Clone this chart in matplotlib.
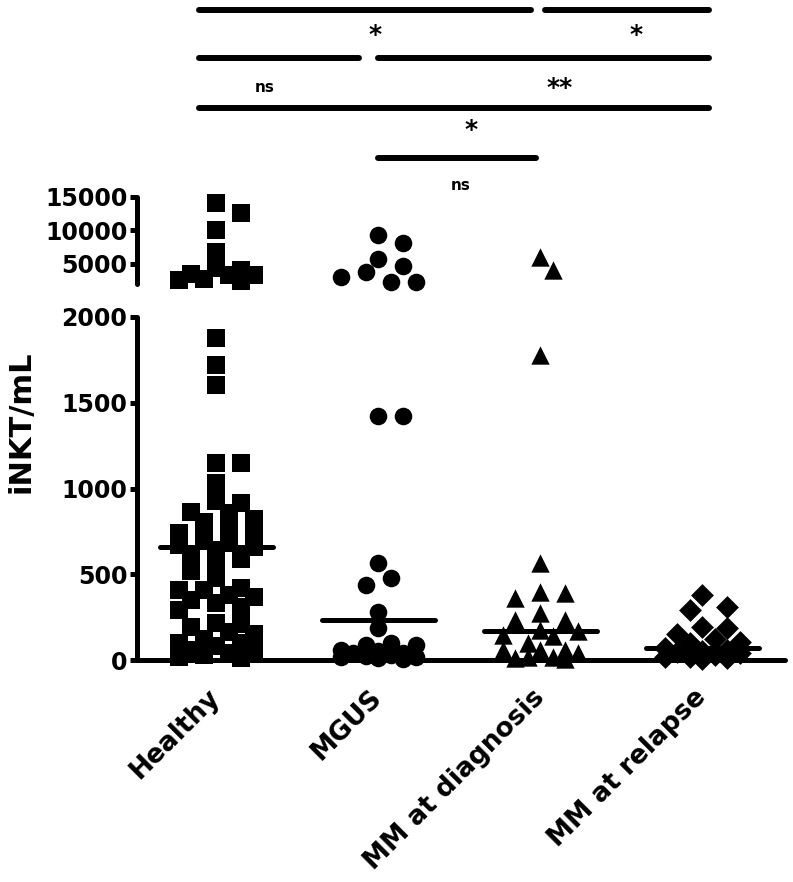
import matplotlib.pyplot as plt
import numpy as np

plt.rcParams['font.family'] = 'DejaVu Sans'
plt.rcParams['font.weight'] = 'bold'

# data (iNKT/mL)
groups = ["Healthy", "MGUS", "MM at diagnosis", "MM at relapse"]
healthy = [14100, 12600, 10000, 6800, 4400, 4100, 3500, 3400, 3300, 2700, 2600, 2500,
           1877, 1720, 1603, 1150, 1150, 1030, 930, 915, 863, 860, 820, 805, 760, 740,
           720, 700, 680, 670, 660, 640, 610, 590, 570, 520, 480, 420, 408, 408, 380,
           367, 350, 330, 310, 290, 216, 210, 190, 163, 150, 120, 100, 99, 80, 60, 47,
           41, 30, 20, 10]
mgus = [9300, 8100, 5700, 4700, 3800, 3050, 2300, 2300, 1423, 1423, 565, 478, 437,
        280, 187, 100, 90, 85, 60, 50, 40, 40, 30, 25, 20, 15, 10, 5]
diagnosis = [6000, 4100, 1780, 565, 396, 390, 361, 274, 233, 233, 175, 168, 146,
             140, 100, 60, 58, 58, 40, 20, 15, 10, 5]
relapse = [379, 309, 292, 192, 187, 150, 120, 105, 100, 70, 60, 50, 45, 40, 30, 20,
           15, 10, 5]
all_data = [healthy, mgus, diagnosis, relapse]

# significance brackets (x from, x to, row) and their labels
bars = [(-0.11, 1.94, 10), (2.03, 3.04, 10), (-0.11, 0.88, 58), (1.0, 3.04, 58),
        (-0.11, 3.04, 108), (1.0, 1.97, 158)]
stars = [(0.98, 35, '*'), (2.59, 35, '*'), (0.30, 88, 'ns'), (2.12, 88, '**'),
         (1.57, 130, '*'), (1.51, 185, 'ns')]

markers = ['s', 'o', '^', 'D']
msizes = [150, 160, 175, 135]

W, H = 793, 882
fig = plt.figure(figsize=(W / 100, H / 100), dpi=100)
x0 = 137 / W
xw = 648 / W
ax_lo = fig.add_axes([x0, (H - 660) / H, xw, 343 / H])
ax_hi = fig.add_axes([x0, (H - 284) / H, xw, 87 / H])
ax_top = fig.add_axes([x0, (H - 195) / H, xw, 195 / H])

for ax in (ax_lo, ax_hi, ax_top):
    ax.set_xlim(-0.49, 3.51)
    ax.patch.set_alpha(0)
ax_lo.set_ylim(0, 2000)
ax_hi.set_ylim(2000, 15000)
ax_top.set_ylim(195, 0)
ax_top.axis('off')

lw = 3.6
for s in ['top', 'right']:
    ax_lo.spines[s].set_visible(False)
for s in ['top', 'right', 'bottom']:
    ax_hi.spines[s].set_visible(False)
for ax in (ax_lo, ax_hi):
    ax.spines['left'].set_linewidth(lw)
    ax.spines['left'].set_capstyle('round')
    ax.tick_params(axis='y', direction='out', length=5, width=lw, labelsize=17, pad=2)
ax_lo.spines['bottom'].set_linewidth(lw)
ax_lo.spines['bottom'].set_capstyle('round')

ax_lo.set_yticks([0, 500, 1000, 1500, 2000])
ax_hi.set_yticks([5000, 10000, 15000])
ax_hi.set_xticks([])
ax_lo.set_xticks(range(4))
ax_lo.set_xticklabels(groups, rotation=45, ha='right', va='center',
                      rotation_mode='anchor', fontsize=19, fontweight='bold')
ax_lo.tick_params(axis='x', length=0, pad=24)


# swarm layout in pixel space (elliptical spacing, like a column scatter)
def swarm(x, vals, step=12.5, ax_w=21.0, ax_h=15.0, maxk=3):
    placed = []
    out = []
    for v in sorted(vals, reverse=True):
        ax = ax_hi if v > 2000 else ax_lo
        cx, py = ax.transData.transform((x, v))
        cands = [0.0]
        for k in range(1, maxk + 1):
            cands += [k * step, -k * step]
        best = None
        bestd = -1
        bestoff = 0.0
        for off in cands:
            d = min([np.hypot((off - po) / ax_w, (py - pp) / ax_h) for po, pp in placed],
                    default=1e9)
            if d >= 1:
                best = off
                break
            if d > bestd:
                bestd = d
                bestoff = off
        if best is None:
            best = bestoff
        placed.append((best, py))
        xd = ax.transData.inverted().transform((cx + best, py))[0]
        out.append((ax, xd, v))
    return out


for i, vals in enumerate(all_data):
    pts = swarm(i, vals)
    for ax in (ax_lo, ax_hi):
        xs = [p[1] for p in pts if p[0] is ax]
        ys = [p[2] for p in pts if p[0] is ax]
        if xs:
            ax.scatter(xs, ys, marker=markers[i], s=msizes[i], color='black',
                       linewidths=0, clip_on=False, zorder=2)
    med = np.median(vals)
    ax_lo.plot([i - 0.35, i + 0.35], [med, med], color='black', lw=lw,
               solid_capstyle='round', zorder=3, clip_on=False)

for xa, xb, y in bars:
    ax_top.plot([xa, xb], [y, y], color='black', lw=4.3, solid_capstyle='round',
                clip_on=False)
for x, y, t in stars:
    fs = 11 if t == 'ns' else 18
    ax_top.text(x, y, t, ha='center', va='center', fontsize=fs, fontweight='bold')

fig.text(21 / W, 1 - 422 / H, 'iNKT/mL', rotation=90, ha='center', va='center',
         fontsize=22, fontweight='bold')

fig.savefig('out.png', dpi=100)
